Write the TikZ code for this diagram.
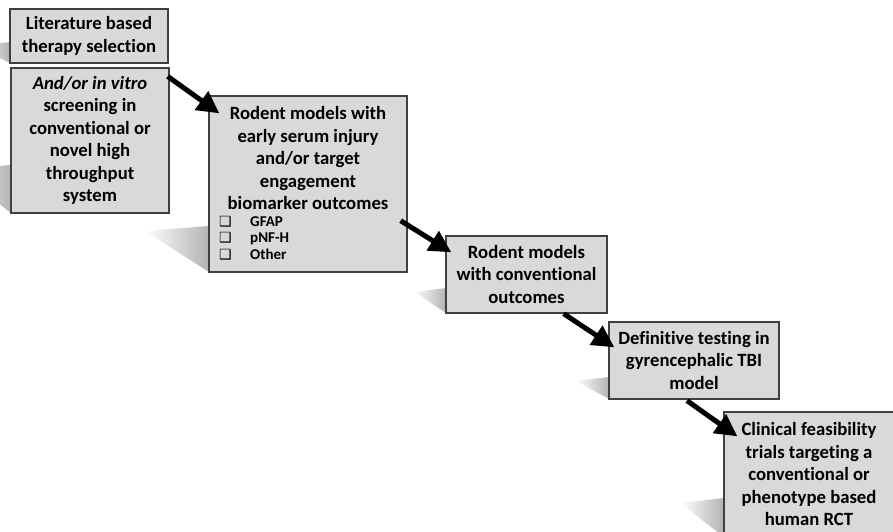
\documentclass[tikz,border=0pt]{standalone}
\usepackage{fontspec}
\setmainfont{Carlito}[Ligatures={NoCommon,NoDiscretionary}]
\newfontfamily\djv{DejaVu Sans}
\usetikzlibrary{arrows.meta,calc}
\begin{document}
\begin{tikzpicture}[x=1pt,y=-1pt,
  box/.style={draw=black!75, line width=1.3pt, fill=black!15, inner sep=0pt,
    align=center, font=\fontsize{18.7}{22.5}\selectfont\bfseries},
  txt/.style={inner sep=0pt, align=center, font=\fontsize{18.7}{22.5}\selectfont\bfseries},
  item/.style={inner sep=0pt, anchor=west, font=\fontsize{15}{16}\selectfont\bfseries},
  flow/.style={line width=5pt, -{Triangle[length=22pt,width=22pt]}},
  shadowfill/.style={left color=white, right color=black!30}
]
\useasboundingbox (0,0) rectangle (893,532);
\clip (0,0) rectangle (893,532);
% shadows
\shade[shadowfill] (10,42) -- (-25,46) -- (10,63) -- cycle;
\shade[shadowfill] (11,165) -- (-45,170) -- (11,213) -- cycle;
\shade[shadowfill] (209,226) -- (145,231) -- (209,272) -- cycle;
\shade[shadowfill] (446,288) -- (414,292) -- (446,313) -- cycle;
\shade[shadowfill] (609,377) -- (576,381) -- (609,399) -- cycle;
\shade[shadowfill] (724,498) -- (680,503) -- (724,537) -- cycle;
% boxes
\node[box, minimum width=158pt, minimum height=54pt] (b1) at (89,36)
  {Literature based\\therapy selection};
\node[box, minimum width=158pt, minimum height=145pt] (b2) at (90,140.5)
  {\itshape And/or in vitro\\screening in\\conventional or\\novel high\\throughput\\system};
\node[box, minimum width=198pt, minimum height=176pt] (b3) at (308,184) {};
\node[txt] (t3) at (308,158.5)
  {Rodent models with\\early serum injury\\and/or target\\engagement\\biomarker outcomes};
\node[item] (i1) at (219,222) {\makebox[31pt][l]{\djv\fontsize{14}{14}\selectfont ❑}GFAP};
\node[item] (i2) at (219,238.5) {\makebox[31pt][l]{\djv\fontsize{14}{14}\selectfont ❑}pNF-H};
\node[item] (i3) at (219,255) {\makebox[31pt][l]{\djv\fontsize{14}{14}\selectfont ❑}Other};
\node[box, minimum width=161pt, minimum height=77pt] (b4) at (526.5,274.5)
  {Rodent models\\with conventional\\outcomes};
\node[box, minimum width=170pt, minimum height=77pt] (b5) at (694,360.5)
  {Definitive testing in\\gyrencephalic TBI\\model};
\node[box, minimum width=170pt, minimum height=125pt] (b6) at (809,474.5)
  {Clinical feasibility\\trials targeting a\\conventional or\\phenotype based\\human RCT};
% arrows
\draw[flow] ([shift={(-2,9)}]b2.north east) -- ([shift={(11,18)}]b3.north west);
\draw[flow] ([shift={(-7,-52)}]b3.south east) -- ([shift={(6,17)}]b4.north west);
\draw[flow] ([shift={(-44,0)}]b4.south east) -- ([shift={(6,26)}]b5.north west);
\draw[flow] ([shift={(-7,1)}]b5.south) -- ([shift={(14,25)}]b6.north west);
\end{tikzpicture}
\end{document}
